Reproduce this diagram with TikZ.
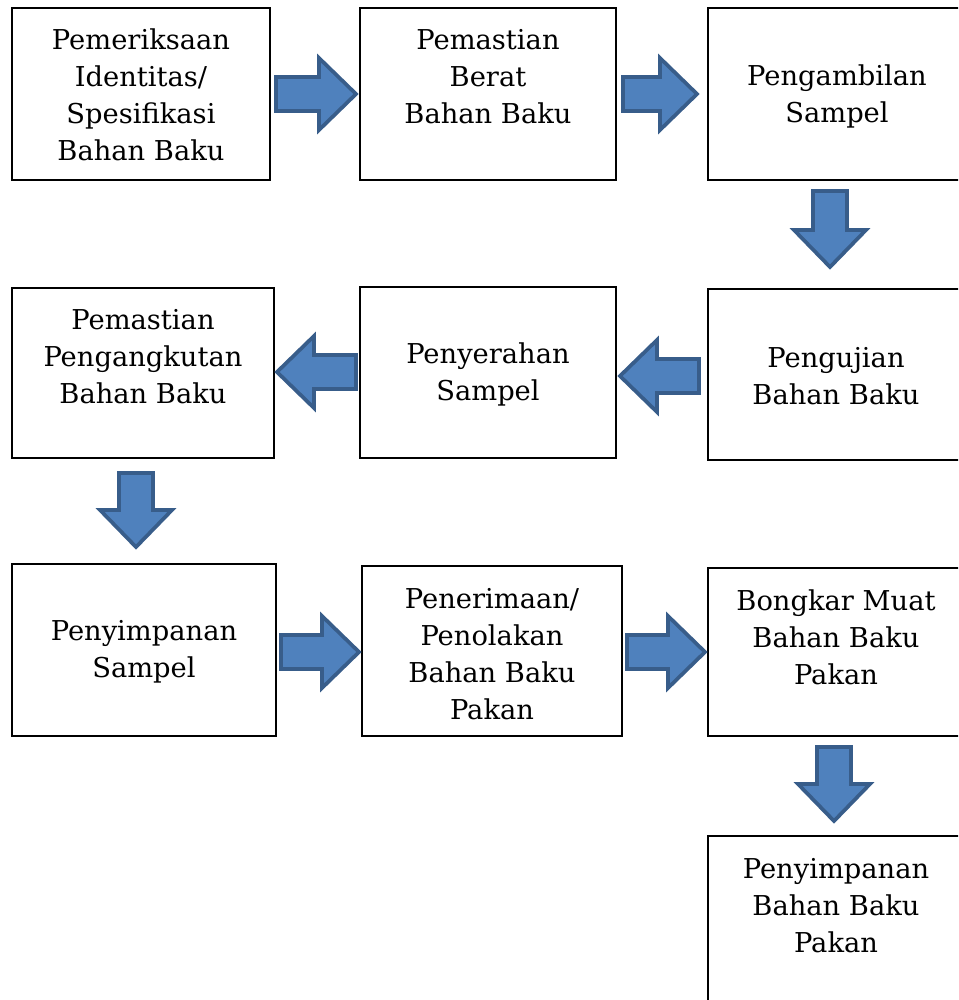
\documentclass[tikz,border=0pt]{standalone}
\usepackage{fontspec}
\setmainfont{DejaVu Serif}
\definecolor{afill}{HTML}{4F81BD}
\definecolor{aline}{HTML}{385D8A}
\tikzset{
  box/.style={draw=black, line width=1.6pt, fill=white},
  txt/.style={align=center, font=\fontsize{20.5}{27.75}\selectfont, inner sep=0pt},
  blk/.style={fill=afill, draw=aline, line width=2.8pt, line join=miter},
}
\newcommand{\rarr}[3]{\draw[blk] (#1,{#3-17}) -- ({#2-37},{#3-17}) -- ({#2-37},{#3-36}) -- (#2,#3) -- ({#2-37},{#3+36}) -- ({#2-37},{#3+17}) -- (#1,{#3+17}) -- cycle;}
\newcommand{\larr}[3]{\draw[blk] (#2,{#3-17}) -- ({#1+37},{#3-17}) -- ({#1+37},{#3-36}) -- (#1,#3) -- ({#1+37},{#3+36}) -- ({#1+37},{#3+17}) -- (#2,{#3+17}) -- cycle;}
\newcommand{\darr}[3]{\draw[blk] ({#1-17},#2) -- ({#1-17},{#3-37}) -- ({#1-36},{#3-37}) -- (#1,#3) -- ({#1+36},{#3-37}) -- ({#1+17},{#3-37}) -- ({#1+17},#2) -- cycle;}
\begin{document}
\begin{tikzpicture}[x=0.75pt, y=-0.75pt]
\useasboundingbox (0,0) rectangle (958,1000);
\clip (0,0) rectangle (958,1000);
% boxes
\draw[box] (12,8) rectangle (270,180);
\draw[box] (360,8) rectangle (616,180);
\draw[box] (708,8) rectangle (970,180);
\draw[box] (12,288) rectangle (274,458);
\draw[box] (360,287) rectangle (616,458);
\draw[box] (708,289) rectangle (970,460);
\draw[box] (12,564) rectangle (276,736);
\draw[box] (362,566) rectangle (622,736);
\draw[box] (708,568) rectangle (970,736);
\draw[box] (708,836) rectangle (970,1010);
% texts
\node[txt] (tA) at (141,95) {Pemeriksaan\\Identitas/\\Spesifikasi\\Bahan Baku};
\node[txt] (tB) at (488,77) {Pemastian\\Berat\\Bahan Baku};
\node[txt] (tC) at (837,96) {Pengambilan\\Sampel};
\node[txt] (tD) at (143,357) {Pemastian\\Pengangkutan\\Bahan Baku};
\node[txt] (tE) at (488,374) {Penyerahan\\Sampel};
\node[txt] (tF) at (836,376) {Pengujian\\Bahan Baku};
\node[txt] (tG) at (144,652) {Penyimpanan\\Sampel};
\node[txt] (tH) at (492,654) {Penerimaan/\\Penolakan\\Bahan Baku\\Pakan};
\node[txt] (tI) at (836,637) {Bongkar Muat\\Bahan Baku\\Pakan};
\node[txt] (tJ) at (836,906) {Penyimpanan\\Bahan Baku\\Pakan};
% block arrows
\rarr{276}{356}{94}
\rarr{623}{697}{94}
\darr{830}{191}{267}
\larr{620}{699}{376}
\larr{277}{356}{372}
\darr{136}{473}{547}
\rarr{281}{359}{652}
\rarr{627}{705}{652}
\darr{834}{747}{821}
\end{tikzpicture}
\end{document}
